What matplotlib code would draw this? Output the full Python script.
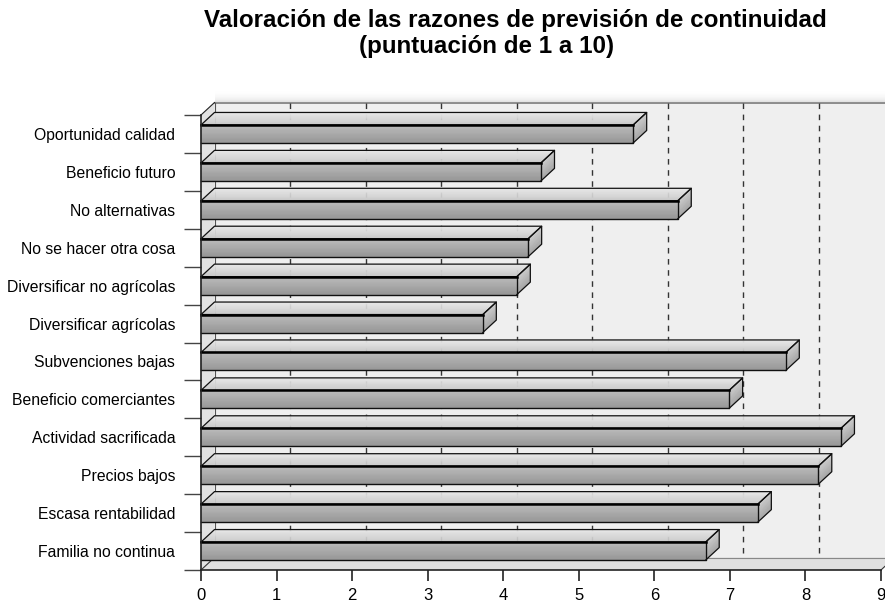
import numpy as np
import matplotlib
matplotlib.use("Agg")
import matplotlib.pyplot as plt
from matplotlib.collections import PolyCollection

# ---------------------------------------------------------------------------
# Data
# ---------------------------------------------------------------------------
categories = [
    "Oportunidad calidad",
    "Beneficio futuro",
    "No alternativas",
    "No se hacer otra cosa",
    "Diversificar no agrícolas",
    "Diversificar agrícolas",
    "Subvenciones bajas",
    "Beneficio comerciantes",
    "Actividad sacrificada",
    "Precios bajos",
    "Escasa rentabilidad",
    "Familia no continua",
]
scores = [5.72, 4.50, 6.31, 4.33, 4.18, 3.73, 7.74, 6.99, 8.47, 8.17, 7.37, 6.68]
x_ticks = list(range(0, 10))
title_lines = ["Valoración de las razones de previsión de continuidad",
               "(puntuación de 1 a 10)"]

plt.rcParams["font.family"] = ["Liberation Sans", "DejaVu Sans"]

# ---------------------------------------------------------------------------
# Geometry (data units: x = score, y = category rows)
# ---------------------------------------------------------------------------
W, H = 885, 609
X0, X1 = 201, 881          # front plane, x = 0 .. 9
Y0, Y1 = 115, 570          # front plane, top .. bottom
XMAX = 9
n = len(categories)
px_x = (X1 - X0) / XMAX
px_y = (Y1 - Y0) / n
DX = 13.5 / px_x           # depth offset to the right
DY = 12.5 / px_y           # depth offset upwards (y axis inverted)
BAR_H = 18 / px_y

fig = plt.figure(figsize=(W / 100, H / 100), dpi=100)
ax = fig.add_axes([X0 / W, 1 - Y1 / H, (X1 - X0) / W, (Y1 - Y0) / H])
ax.set_xlim(0, XMAX)
ax.set_ylim(n, 0)
for s in ax.spines.values():
    s.set_visible(False)
ax.set_facecolor("none")

# soft shadow above back wall
shade = np.linspace(0, 1, 20).reshape(-1, 1) ** 2
ax.imshow(shade, cmap="Greys", vmin=0, vmax=5, aspect="auto",
          extent=(DX, XMAX + 1, -DY, -DY - 12 / px_y), clip_on=False,
          interpolation="bilinear", zorder=0)

# back wall
ax.fill([DX, XMAX + 1, XMAX + 1, DX], [-DY, -DY, n - DY, n - DY],
        color="#efefef", lw=0, clip_on=False, zorder=1)
ax.plot([DX, XMAX + 1], [-DY, -DY], color="#7a7a7a", lw=1.2, clip_on=False, zorder=2)
ax.plot([DX, DX], [-DY, n - DY], color="#555555", lw=0.8, clip_on=False, zorder=2)

# left wall
ax.fill([0, DX, DX, 0], [0, -DY, n - DY, n], color="#e2e2e2", lw=0,
        clip_on=False, zorder=1)
ax.plot([0, DX], [0, -DY], color="#222222", lw=0.8, clip_on=False, zorder=2)

# dashed grid on back wall
for v in x_ticks[1:-1]:
    ax.plot([v + DX, v + DX], [-DY, n - DY], color="#333333", lw=1.0,
            dashes=(4, 4), clip_on=False, zorder=2)

# floor
ax.fill([0, XMAX, XMAX + DX, DX], [n, n, n - DY, n - DY], color="#e0e0e0",
        lw=0, clip_on=False, zorder=3)
ax.plot([DX, XMAX + DX], [n - DY, n - DY], color="#888888", lw=0.8, clip_on=False, zorder=3)
ax.plot([XMAX, XMAX + DX], [n, n - DY], color="#333333", lw=0.8, clip_on=False, zorder=3)
ax.plot([0, DX], [n, n - DY], color="#333333", lw=0.8, clip_on=False, zorder=3)

# bars
NSTR = 14
for i, v in enumerate(scores):
    c = i + 0.5
    top = c - BAR_H / 2
    bot = c + BAR_H / 2
    polys, cols = [], []
    # top face, lighter toward the back
    for k in range(NSTR):
        a0, a1 = k / NSTR, (k + 1) / NSTR
        ya, yb = top - a0 * DY, top - a1 * DY
        xa, xb = a0 * DX, a1 * DX
        polys.append([(xa, ya), (v + xa, ya), (v + xb, yb), (xb, yb)])
        g = 0.78 + 0.13 * (a0 + a1) / 2
        cols.append((g, g, g))
    # front face, darker toward the bottom
    for k in range(NSTR):
        a0, a1 = k / NSTR, (k + 1) / NSTR
        ya, yb = top + a0 * BAR_H, top + a1 * BAR_H
        polys.append([(0, ya), (v, ya), (v, yb), (0, yb)])
        g = 0.74 - 0.15 * (a0 + a1) / 2
        cols.append((g, g, g))
    # right side face
    for k in range(NSTR):
        a0, a1 = k / NSTR, (k + 1) / NSTR
        ya, yb = top + a0 * BAR_H, top + a1 * BAR_H
        polys.append([(v, ya), (v + DX, ya - DY), (v + DX, yb - DY), (v, yb)])
        g = 0.80 - 0.16 * (a0 + a1) / 2
        cols.append((g, g, g))
    pc = PolyCollection(polys, facecolors=cols, edgecolors=cols, linewidths=0.3,
                        clip_on=False, zorder=5)
    ax.add_collection(pc)
    # outlines
    ax.plot([0, v, v + DX, DX, 0], [top, top, top - DY, top - DY, top],
            color="#111111", lw=0.9, clip_on=False, zorder=6)
    ax.plot([v, v + DX, v + DX, v], [top, top - DY, bot - DY, bot],
            color="#111111", lw=0.9, clip_on=False, zorder=6)
    ax.plot([0, v, v], [bot, bot, top], color="#111111", lw=1.0, clip_on=False, zorder=6)
    ax.plot([0, v], [top, top], color="#000000", lw=1.8, clip_on=False, zorder=7)

# front axis lines
ax.plot([0, XMAX], [n, n], color="#222222", lw=1.2, clip_on=False, zorder=8)
ax.plot([0, 0], [0, n], color="#222222", lw=1.2, clip_on=False, zorder=8)

# ticks
ax.set_xticks(x_ticks)
ax.set_xticklabels([str(t) for t in x_ticks], fontsize=12)
ax.set_yticks(np.arange(n + 1))
ax.set_yticklabels([])
ax.set_yticks(np.arange(n) + 0.5, minor=True)
ax.set_yticklabels(categories, minor=True, fontsize=11.3)
ax.tick_params(axis="x", length=8, width=1.2, color="#222222", pad=5)
ax.tick_params(axis="y", which="major", length=12, width=1.0, color="#444444")
ax.tick_params(axis="y", which="minor", length=0, pad=18.5)

# title, two centred lines
fig.text(515 / W, 1 - 20 / H, title_lines[0], ha="center", va="center",
         fontsize=17.4, fontweight="bold")
fig.text(487 / W, 1 - 47 / H, title_lines[1], ha="center", va="center",
         fontsize=17.4, fontweight="bold")

fig.savefig("out.png", dpi=100)
